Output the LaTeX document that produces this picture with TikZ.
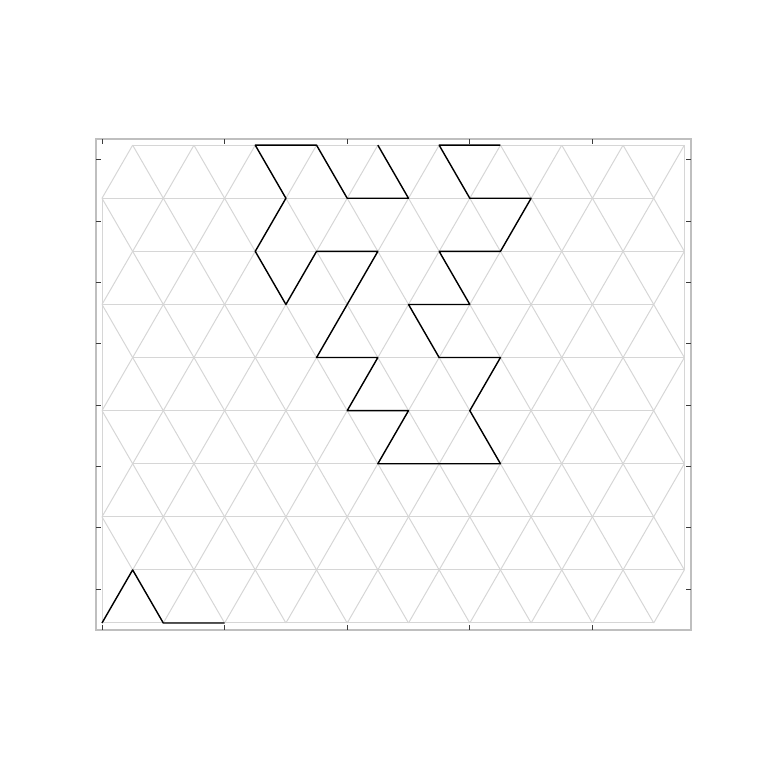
\documentclass[tikz,border=0pt]{standalone}
\usetikzlibrary{calc}
\definecolor{gridgray}{RGB}{214,214,214}
\definecolor{framegray}{RGB}{191,191,191}
\definecolor{tickgray}{RGB}{60,60,60}
\tikzset{
  gridline/.style={draw=gridgray, line width=1pt},
  pathline/.style={draw=black, line width=1.4pt, line join=round},
  frameline/.style={draw=framegray, line width=1.2pt},
  tickline/.style={draw=tickgray, line width=0.9pt}
}
\begin{document}
\begin{tikzpicture}[x=1pt,y=1pt]
\useasboundingbox (0,0) rectangle (768,768);
% frame (pixel coords: y_tikz = 768 - y_px)
\coordinate (fbl) at (96,138);
\coordinate (ftr) at (691,629);
\draw[frameline] (fbl) rectangle (ftr);
% ticks
\foreach \k in {0,...,4} {
  \coordinate (bt\k) at ({102+122.6*\k},138);
  \coordinate (tt\k) at ({102+122.6*\k},629);
  \draw[tickline] (bt\k) -- ++(0,5);
  \draw[tickline] (tt\k) -- ++(0,-5);
}
\foreach \j in {0,...,7} {
  \coordinate (lt\j) at (96,{768-589+61.3*\j});
  \coordinate (rt\j) at (691,{768-589+61.3*\j});
  \draw[tickline] (lt\j) -- ++(5,0);
  \draw[tickline] (rt\j) -- ++(-5,0);
}
\begin{scope}[shift={(102pt,145pt)}, x=61.3pt, y=53.09pt]
  % triangular grid
  \foreach \k in {0,...,9} {
    \pgfmathsetmacro\off{0.5*mod(\k,2)}
    \draw[gridline] (\off,\k) -- ({\off+9},\k);
  }
  \foreach \k in {0,...,8} {
    \pgfmathtruncatemacro\pr{mod(\k,2)}
    \foreach \i in {0,...,9} {
      \ifnum\pr=0
        \draw[gridline] (\i,\k) -- ({\i+0.5},{\k+1});
        \ifnum\i>0 \draw[gridline] (\i,\k) -- ({\i-0.5},{\k+1}); \fi
      \else
        \draw[gridline] ({\i+0.5},\k) -- (\i,{\k+1});
        \ifnum\i<9 \draw[gridline] ({\i+0.5},\k) -- ({\i+1},{\k+1}); \fi
      \fi
    }
  }
  \draw[gridline] (0,0) -- (0,8);
  \draw[gridline] (9.5,1) -- (9.5,9);
  % black paths
  \draw[pathline] (0,0) -- (0.5,1) -- (1,0) -- (2,0);
  \draw[pathline] (4.5,9) -- (5,8) -- (4,8) -- (3.5,9) -- (2.5,9) -- (3,8) -- (2.5,7)
    -- (3,6) -- (3.5,7) -- (4.5,7) -- (4,6) -- (3.5,5) -- (4.5,5) -- (4,4) -- (5,4)
    -- (4.5,3) -- (5.5,3) -- (6.5,3) -- (6,4) -- (6.5,5) -- (5.5,5) -- (5,6) -- (6,6)
    -- (5.5,7) -- (6.5,7) -- (7,8) -- (6,8) -- (5.5,9) -- (6.5,9);
\end{scope}
\end{tikzpicture}
\end{document}
